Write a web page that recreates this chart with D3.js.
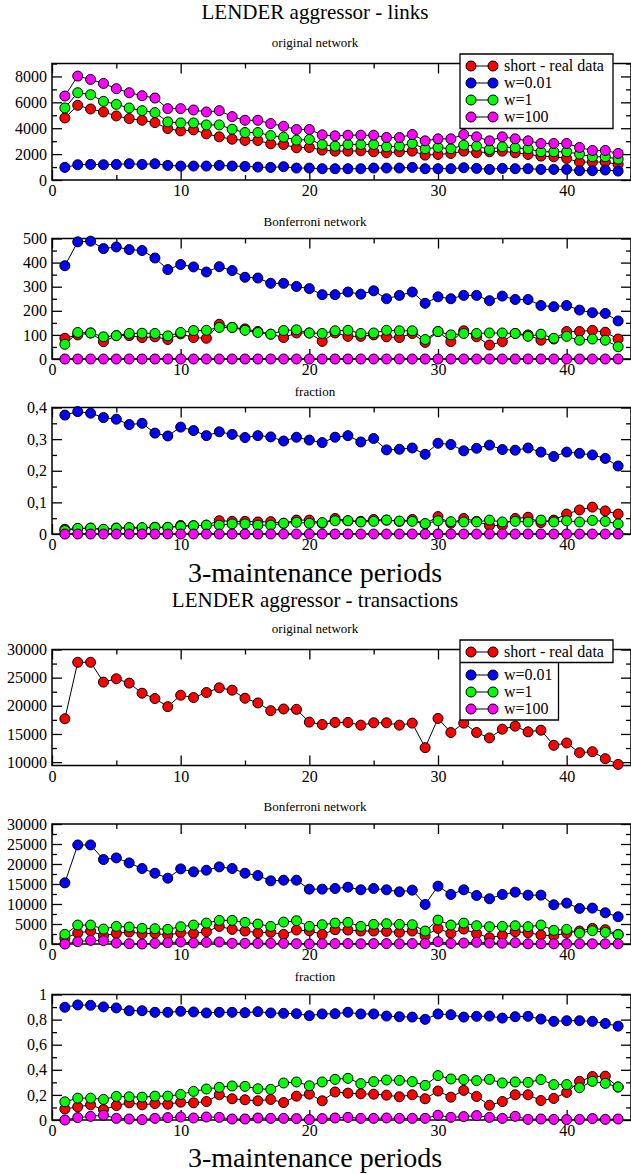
<!DOCTYPE html>
<html>
<head>
<meta charset="utf-8">
<script src="https://cdn.jsdelivr.net/npm/d3@7"></script>
<style>
  body { margin: 0; background: #fff; }
  svg { display: block; }
  text { font-family: "Liberation Serif", "DejaVu Serif", serif; fill: #000; }
</style>
</head>
<body>
<svg id="chart" width="631" height="1174"></svg>
<script>
// maintenance periods (x axis)
const periods = [1,2,3,4,5,6,7,8,9,10,11,12,13,14,15,16,17,18,19,20,21,22,23,24,25,26,27,28,29,30,31,32,33,34,35,36,37,38,39,40,41,42,43,44];
const seriesNames = ["short - real data", "w=0.01", "w=1", "w=100"];
const seriesColors = ["#ff0000", "#0000ff", "#00ff00", "#ff00ff"];

// LENDER aggressor - links
const linksOrigReal = [4795,5769,5487,5256,4949,4743,4615,4436,3974,3795,3872,3564,3333,3154,3051,3051,2795,2744,2487,2513,2308,2231,2231,2256,2179,2103,2179,2231,1923,1974,2051,2231,2103,2179,2231,2103,1974,1846,1795,1667,1385,1385,1385,1205];
const linksOrigW001 = [974,1179,1205,1179,1205,1256,1205,1256,1128,1077,1077,1077,1128,1077,1051,1000,974,1026,923,923,872,872,872,872,923,923,923,974,872,872,872,949,897,820,897,872,872,820,820,820,718,718,769,692];
const linksOrigW1 = [5564,6743,6590,6077,5846,5564,5359,5205,4487,4410,4410,4256,4256,3923,3667,3667,3436,3308,3077,3128,2744,2615,2744,2744,2744,2564,2615,2820,2410,2513,2410,2692,2615,2359,2564,2487,2410,2179,2179,2179,2000,1795,1795,1615];
const linksOrigW100 = [6487,8026,7769,7461,7051,6743,6513,6333,5513,5513,5410,5256,5359,4897,4615,4615,4359,4154,3897,3897,3487,3410,3461,3461,3461,3282,3282,3513,3026,3179,3179,3513,3333,3026,3333,3179,3026,2820,2820,2820,2513,2282,2282,2051];

const linksBonfReal = [86,100,108,72,97,97,89,92,81,104,89,86,144,131,125,114,103,89,108,108,73,108,94,94,100,92,89,106,69,114,72,117,92,58,72,106,100,78,83,114,114,119,111,83];
const linksBonfW001 = [387,486,489,458,465,454,450,419,371,392,382,361,383,367,339,336,314,314,301,292,267,267,278,269,283,250,264,278,231,258,250,264,264,242,261,247,247,222,217,222,203,192,189,158];
const linksBonfW1 = [61,110,108,92,97,106,107,106,96,110,118,119,131,131,119,110,103,118,121,108,106,117,119,106,108,119,117,117,81,114,100,106,106,108,108,106,94,103,86,94,78,83,78,51];
const linksBonfW100 = [0,0,0,0,0,0,0,0,0,0,0,0,0,0,0,0,0,0,0,0,0,0,0,0,0,0,0,0,0,0,0,0,0,0,0,0,0,0,0,0,0,0,0,0];

const linksFracReal = [0.015,0.017,0.019,0.013,0.019,0.019,0.019,0.021,0.021,0.027,0.026,0.028,0.042,0.040,0.040,0.038,0.039,0.034,0.044,0.044,0.034,0.049,0.042,0.040,0.046,0.044,0.040,0.046,0.032,0.055,0.034,0.049,0.040,0.027,0.027,0.049,0.053,0.036,0.044,0.063,0.076,0.085,0.073,0.063];
const linksFracW001 = [0.376,0.387,0.382,0.368,0.363,0.346,0.350,0.319,0.310,0.338,0.327,0.311,0.323,0.315,0.305,0.311,0.307,0.294,0.306,0.297,0.289,0.306,0.311,0.291,0.302,0.266,0.268,0.272,0.252,0.287,0.283,0.263,0.271,0.281,0.267,0.265,0.272,0.259,0.245,0.259,0.255,0.250,0.239,0.215];
const linksFracW1 = [0.011,0.018,0.018,0.015,0.018,0.020,0.020,0.021,0.021,0.024,0.026,0.028,0.028,0.032,0.032,0.028,0.028,0.034,0.037,0.034,0.036,0.042,0.042,0.038,0.040,0.044,0.041,0.040,0.033,0.042,0.039,0.038,0.038,0.044,0.038,0.040,0.038,0.044,0.038,0.042,0.038,0.043,0.040,0.032];
const linksFracW100 = [0,0,0,0,0,0,0,0,0,0,0,0,0,0,0,0,0,0,0,0,0,0,0,0,0,0,0,0,0,0,0,0,0,0,0,0,0,0,0,0,0,0,0,0];

// LENDER aggressor - transactions
const trOrigReal = [17702,27731,27731,24209,24806,24030,22239,21284,19851,21881,21463,22358,23194,22776,21343,20508,19135,19433,19373,17105,16687,17045,17045,16567,16985,16985,16567,16926,12567,17761,15254,16926,15254,14299,15851,16388,15373,15672,12985,13403,11672,11851,10612,9597];

const trBonfReal = [1413,2742,3241,2078,2659,2992,2576,2659,2244,2825,2659,3075,4404,3656,3241,2825,2909,2410,3490,3300,2410,3573,3490,3241,3241,3158,2909,3241,2078,3906,2659,3740,2576,1579,2161,3075,2825,2244,2078,2742,3241,3906,3573,2400];
const trBonfW001 = [15290,24764,24764,21107,21523,20276,18864,17700,16454,18781,18033,18448,19279,18864,17700,17119,15789,15955,15955,13712,13712,13878,14210,13545,13878,13545,13047,13462,9889,14459,12382,13545,12133,11302,12382,12964,12216,12216,9806,10221,8892,8975,7811,6814];
const trBonfW1 = [2410,4737,4737,3740,4404,4238,3906,3823,3656,4321,4737,5235,5900,5900,5402,4986,4404,5485,5817,4404,4820,5235,5402,4404,4903,5069,4903,4820,3241,5983,4737,5235,4571,4321,4404,4571,4321,4737,3407,3656,2742,3324,2909,2327];
const trBonfW100 = [0,582,914,831,249,83,0,166,332,499,249,416,499,166,166,166,166,166,83,0,83,100,100,50,100,100,50,100,100,582,150,250,416,250,200,332,50,50,50,50,50,50,50,50];

const trFracReal = [0.088,0.105,0.121,0.083,0.115,0.137,0.121,0.131,0.126,0.142,0.137,0.147,0.201,0.169,0.161,0.153,0.164,0.139,0.190,0.206,0.153,0.223,0.214,0.209,0.206,0.198,0.185,0.201,0.169,0.231,0.182,0.236,0.188,0.118,0.147,0.201,0.201,0.155,0.172,0.220,0.308,0.346,0.349,0.263];
const trFracW001 = [0.898,0.917,0.914,0.901,0.893,0.871,0.871,0.858,0.858,0.866,0.861,0.853,0.858,0.858,0.855,0.863,0.853,0.850,0.847,0.831,0.845,0.847,0.858,0.845,0.845,0.828,0.823,0.820,0.802,0.845,0.839,0.820,0.826,0.828,0.812,0.823,0.826,0.804,0.786,0.791,0.791,0.786,0.769,0.748];
const trFracW1 = [0.145,0.174,0.174,0.164,0.188,0.185,0.182,0.190,0.190,0.204,0.228,0.247,0.260,0.271,0.268,0.249,0.244,0.295,0.303,0.273,0.303,0.324,0.332,0.290,0.306,0.319,0.316,0.306,0.276,0.354,0.327,0.322,0.314,0.324,0.295,0.303,0.300,0.322,0.282,0.282,0.257,0.308,0.292,0.263];
const trFracW100 = [0,0.019,0.029,0.038,0.013,0.008,0.003,0.013,0.019,0.024,0.016,0.024,0.021,0.008,0.008,0.016,0.013,0.013,0.011,0.003,0.011,0.016,0.021,0.013,0.013,0.016,0.013,0.013,0.013,0.038,0.021,0.027,0.035,0.021,0.013,0.029,0.005,0.008,0.005,0.003,0.005,0.011,0.005,0.008];

// tick values
const xMajor = [0,10,20,30,40];
const xMinor = [5,15,25,35,45];

const svg = d3.select("#chart");
const left = 52, right = 631;
const x = d3.scaleLinear().domain([0, 45]).range([left, right]);
const fmt = v => String(+v.toFixed(3)).replace(".", ",");

const panels = [
  { top: 63.5, bottom: 180, dom: [0, 9000], major: [0,2000,4000,6000,8000], minor: [1000,3000,5000,7000,9000],
    sub: "original network", subY: 47, series: [linksOrigReal, linksOrigW001, linksOrigW1, linksOrigW100] },
  { top: 238.5, bottom: 359, dom: [0, 500], major: [0,100,200,300,400,500], minor: [50,150,250,350,450],
    sub: "Bonferroni network", subY: 226, series: [linksBonfReal, linksBonfW001, linksBonfW1, linksBonfW100] },
  { top: 407.5, bottom: 534, dom: [0, 0.4], major: [0,0.1,0.2,0.3,0.4], minor: [0.05,0.15,0.25,0.35],
    sub: "fraction", subY: 396, series: [linksFracReal, linksFracW001, linksFracW1, linksFracW100] },
  { top: 649.5, bottom: 765.5, dom: [9400, 30000], major: [10000,15000,20000,25000,30000], minor: [12500,17500,22500,27500],
    sub: "original network", subY: 633, series: [trOrigReal, null, null, null] },
  { top: 824, bottom: 944, dom: [0, 30000], major: [0,5000,10000,15000,20000,25000,30000], minor: [2500,7500,12500,17500,22500,27500],
    sub: "Bonferroni network", subY: 811, series: [trBonfReal, trBonfW001, trBonfW1, trBonfW100] },
  { top: 994.5, bottom: 1120, dom: [0, 1], major: [0,0.2,0.4,0.6,0.8,1], minor: [0.1,0.3,0.5,0.7,0.9],
    sub: "fraction", subY: 981, series: [trFracReal, trFracW001, trFracW1, trFracW100] }
];

// titles
const titles = [
  { text: "LENDER aggressor - links", y: 19, size: 21 },
  { text: "3-maintenance periods", y: 582, size: 28 },
  { text: "LENDER aggressor - transactions", y: 607, size: 21 },
  { text: "3-maintenance periods", y: 1167, size: 28 }
];
svg.selectAll("text.title").data(titles).join("text")
  .attr("class", "title")
  .attr("x", 315).attr("y", d => d.y)
  .attr("text-anchor", "middle")
  .style("font-size", d => d.size + "px")
  .text(d => d.text);

const line = d3.line();

panels.forEach(p => {
  const y = d3.scaleLinear().domain(p.dom).range([p.bottom, p.top]);
  const g = svg.append("g");

  g.append("text").attr("x", 315).attr("y", p.subY).attr("text-anchor", "middle")
    .style("font-size", "13px").text(p.sub);

  const addAxis = (axis, tr, size, vals, labels) => {
    const a = g.append("g").attr("transform", tr)
      .call(axis.tickValues(vals).tickSize(-size).tickSizeOuter(0).tickPadding(5)
        .tickFormat(labels ? fmt : ""));
    a.select(".domain").remove();
    a.selectAll("line").attr("stroke", "#000").attr("stroke-width", 1.3);
    a.selectAll("text").style("font-size", "16px").style("font-family", "Liberation Serif");
    return a;
  };

  addAxis(d3.axisBottom(x), `translate(0,${p.bottom})`, 10, xMajor, true);
  addAxis(d3.axisBottom(x), `translate(0,${p.bottom})`, 5, xMinor, false);
  addAxis(d3.axisTop(x), `translate(0,${p.top})`, 10, xMajor, false);
  addAxis(d3.axisTop(x), `translate(0,${p.top})`, 5, xMinor, false);
  addAxis(d3.axisLeft(y), `translate(${left},0)`, 10, p.major, true);
  addAxis(d3.axisLeft(y), `translate(${left},0)`, 5, p.minor, false);
  addAxis(d3.axisRight(y), `translate(${right},0)`, 10, p.major, false);
  addAxis(d3.axisRight(y), `translate(${right},0)`, 5, p.minor, false);

  g.append("rect").attr("x", left).attr("y", p.top)
    .attr("width", right - left).attr("height", p.bottom - p.top)
    .attr("fill", "none").attr("stroke", "#000").attr("stroke-width", 1.5);

  p.series.forEach((vals, si) => {
    if (!vals) return;
    const pts = periods.map((d, i) => [x(d), y(vals[i])]);
    g.append("path").attr("d", line(pts)).attr("fill", "none")
      .attr("stroke", "#000").attr("stroke-width", 1);
    g.selectAll(null).data(pts).join("circle")
      .attr("cx", d => d[0]).attr("cy", d => d[1]).attr("r", 5)
      .attr("fill", seriesColors[si]).attr("stroke", "#000").attr("stroke-width", 1);
  });
});

// legends
function legend(rows, outline) {
  const g = svg.append("g");
  g.append("path").attr("d", outline).attr("fill", "#fff").attr("stroke", "#000").attr("stroke-width", 1.3);
  rows.forEach((ry, i) => {
    g.append("line").attr("x1", 471).attr("x2", 493).attr("y1", ry).attr("y2", ry)
      .attr("stroke", "#000").attr("stroke-width", 1);
    [471, 493].forEach(cx => g.append("circle").attr("cx", cx).attr("cy", ry).attr("r", 5)
      .attr("fill", seriesColors[i]).attr("stroke", "#000").attr("stroke-width", 1));
    g.append("text").attr("x", 504).attr("y", ry + 5).style("font-size", "16px").text(seriesNames[i]);
  });
}
legend([66, 83, 100, 117], "M460,54H613V128.5H460Z");
legend([652, 675, 692, 709], "M460,640H613V662.5H558.5V720H460Z M460,662.5H558.5");
</script>
</body>
</html>
